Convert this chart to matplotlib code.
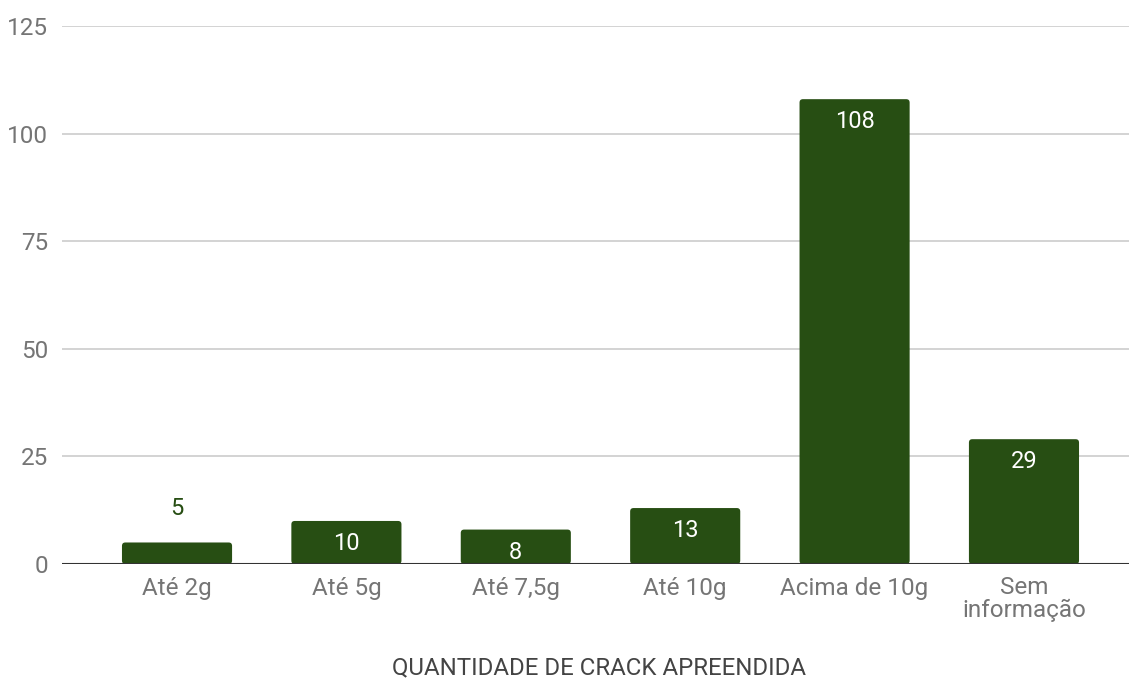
import matplotlib.pyplot as plt
from matplotlib.patches import FancyBboxPatch

plt.rcParams['font.family'] = ['Roboto', 'DejaVu Sans']

categorias = ["Até 2g", "Até 5g", "Até 7,5g", "Até 10g", "Acima de 10g", "Sem\ninformação"]
apreensoes = [5, 10, 8, 13, 108, 29]
yticks = [0, 25, 50, 75, 100, 125]

VERDE = "#274e13"
CINZA = "#757575"

fig = plt.figure(figsize=(11.29, 6.8), dpi=100)
ax = fig.add_axes([62 / 1129, 116 / 680, 1 - 62 / 1129, (564 - 26) / 680])

largura = 0.65
x = list(range(len(categorias)))
bars = ax.bar(x, apreensoes, width=largura, color=VERDE, zorder=3)

# cantos levemente arredondados no topo
for b in bars:
    b.set_visible(False)
    p = FancyBboxPatch((b.get_x(), 0), b.get_width(), b.get_height(),
                       boxstyle="round,pad=0,rounding_size=0.02",
                       mutation_aspect=125 / 538 * 169.4,
                       facecolor=VERDE, edgecolor="none", zorder=3)
    ax.add_patch(p)

for xi, v in zip(x, apreensoes):
    if v < 7:
        ax.text(xi, v + 8, str(v), ha="center", va="center",
                fontsize=17, color=VERDE)
    else:
        ax.text(xi, v - 5.3, str(v), ha="center", va="center",
                fontsize=17, color="white", zorder=4)

ax.set_xlim(-0.679, 5.62)
ax.set_ylim(0, 125)
ax.set_yticks(yticks)
ax.set_yticklabels([str(t) for t in yticks])
ax.set_xticks(x)
ax.set_xticklabels(categorias, linespacing=0.95)

ax.grid(axis="y", color="#cccccc", lw=1.2, zorder=0)
ax.axhline(0, color="#333333", lw=1.5, zorder=5)
for s in ax.spines.values():
    s.set_visible(False)

ax.tick_params(axis="both", length=0, labelsize=17.5, colors=CINZA)
ax.tick_params(axis="y", pad=10)
ax.tick_params(axis="x", pad=9)

fig.text(0.5 + 35 / 1129, 1 - 668 / 680, "QUANTIDADE DE CRACK APREENDIDA",
         ha="center", va="center", fontsize=17.3, color="#444444")

fig.savefig("out.png", dpi=100, facecolor="white")
